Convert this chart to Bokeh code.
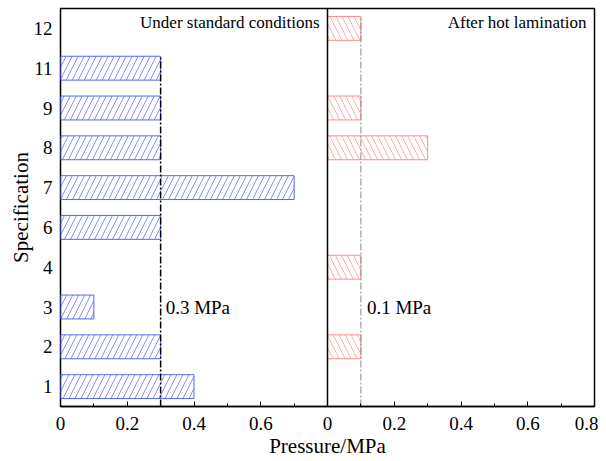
from bokeh.plotting import figure
from bokeh.models import (FactorRange, Range1d, FixedTicker, Span, ColumnDataSource)
from bokeh.core.properties import value
from bokeh.embed import file_html
from bokeh.resources import INLINE

# ---- data ----
categories = ["1", "2", "3", "4", "6", "7", "8", "9", "11", "12"]
standard = [0.4, 0.3, 0.1, None, 0.3, 0.7, 0.3, 0.3, 0.3, None]
hot_lamination = [None, 0.1, None, 0.1, None, None, 0.3, 0.1, None, 0.1]
standard_limit = 0.3
hot_limit = 0.1
tick_values = [0, 0.2, 0.4, 0.6, 0.8]
panel_max = 0.8

FONT = "Liberation Serif"
BLUE = "#5566f2"
RED = "#ff8c8c"

p = figure(frame_width=534, frame_height=398, output_backend="svg", toolbar_location=None,
           y_range=FactorRange(factors=categories, range_padding=0),
           x_range=Range1d(0, 2 * panel_max),
           min_border_left=60, min_border_right=4, min_border_top=8, min_border_bottom=10)
p.extra_x_ranges = {"hot": Range1d(-panel_max, panel_max)}

# bars
s_src = ColumnDataSource(dict(y=[c for c, v in zip(categories, standard) if v is not None],
                              right=[v for v in standard if v is not None]))
h_src = ColumnDataSource(dict(y=[c for c, v in zip(categories, hot_lamination) if v is not None],
                              right=[v for v in hot_lamination if v is not None]))
p.hbar(y="y", left=0, right="right", height=0.6, source=s_src,
       fill_color=None, line_color=BLUE, line_width=1,
       hatch_pattern="/", hatch_color=BLUE, hatch_weight=0.8, hatch_scale=12, hatch_alpha=0.9)
p.hbar(y="y", left=0, right="right", height=0.6, source=h_src, x_range_name="hot",
       fill_color=None, line_color=RED, line_width=1,
       hatch_pattern="\\", hatch_color=RED, hatch_weight=0.8, hatch_scale=12, hatch_alpha=0.9)

# threshold lines
top_std = [c for c, v in zip(categories, standard) if v is not None][-1]
top_hot = [c for c, v in zip(categories, hot_lamination) if v is not None][-1]
p.segment(x0=[standard_limit], x1=[standard_limit], y0=[(categories[0], -0.5)], y1=[(top_std, 0.3)],
          line_color="black", line_width=1.5, line_dash="7 2 2 2")
p.segment(x0=[hot_limit], x1=[hot_limit], y0=[(categories[0], -0.5)], y1=[(top_hot, 0.3)],
          x_range_name="hot", line_color="#8a8a8a", line_width=1, line_dash="7 2 2 2")

# divider
p.add_layout(Span(location=panel_max, dimension="height", line_color="black", line_width=1.5))

# annotations
p.text(x=[standard_limit], y=["3"], text=[f"{standard_limit} MPa"], x_offset=5, y_offset=0,
       text_font=value(FONT), text_font_size="19px", text_baseline="middle", text_align="left",
       text_color="black")
p.text(x=[hot_limit], y=["3"], text=[f"{hot_limit} MPa"], x_offset=6, y_offset=0, x_range_name="hot",
       text_font=value(FONT), text_font_size="19px", text_baseline="middle", text_align="left",
       text_color="black")
p.text(x=[panel_max], y=["12"], text=["Under standard conditions"], x_offset=-8, y_offset=-6,
       text_font=value(FONT), text_font_size="17px", text_baseline="middle", text_align="right",
       text_color="black")
p.text(x=[panel_max], y=["12"], text=["After hot lamination"], x_offset=-8, y_offset=-6, x_range_name="hot",
       text_font=value(FONT), text_font_size="17px", text_baseline="middle", text_align="right",
       text_color="black")

# axes
major = [round(t, 1) for t in tick_values] + [round(panel_max + t, 1) for t in tick_values[1:]]
minor = [round(0.1 + 0.2 * i, 1) for i in range(8)]
p.xaxis.ticker = FixedTicker(ticks=major, minor_ticks=minor)
overrides = {}
for t in major:
    lab = t if t <= panel_max - 1e-9 else round(t - panel_max, 1)
    if abs(t - panel_max) < 1e-9:
        lab = 0
    overrides[t] = "0" if lab == 0 else f"{lab:g}"
p.xaxis.major_label_overrides = overrides
p.xaxis.axis_label = "Pressure/MPa"
p.xaxis.axis_line_color = "black"
p.xaxis.axis_line_width = 1.5
p.xaxis.major_tick_in = 5
p.xaxis.major_tick_out = 0
p.xaxis.minor_tick_in = 3
p.xaxis.minor_tick_out = 0
p.xaxis.major_tick_line_color = "black"
p.xaxis.minor_tick_line_color = "black"
p.xaxis.major_label_standoff = 10
p.xaxis.axis_label_standoff = 1

p.yaxis.axis_label = "Specification"
p.yaxis.major_tick_line_color = None
p.yaxis.minor_tick_line_color = None
p.yaxis.major_tick_in = 0
p.yaxis.major_tick_out = 0
p.yaxis.minor_tick_in = 0
p.yaxis.minor_tick_out = 0
p.yaxis.axis_line_color = None
p.yaxis.major_label_standoff = 8
p.yaxis.axis_label_standoff = -2

for ax in (p.xaxis, p.yaxis):
    ax.major_label_text_font = FONT
    ax.major_label_text_font_size = "19px"
    ax.major_label_text_color = "black"
    ax.axis_label_text_font = FONT
    ax.axis_label_text_font_size = "21px"
    ax.axis_label_text_font_style = "normal"
    ax.axis_label_text_color = "black"

p.xgrid.visible = False
p.ygrid.visible = False
p.outline_line_color = "black"
p.outline_line_width = 1.5
p.outline_line_alpha = 1

open("out.html", "w").write(file_html(p, INLINE))
